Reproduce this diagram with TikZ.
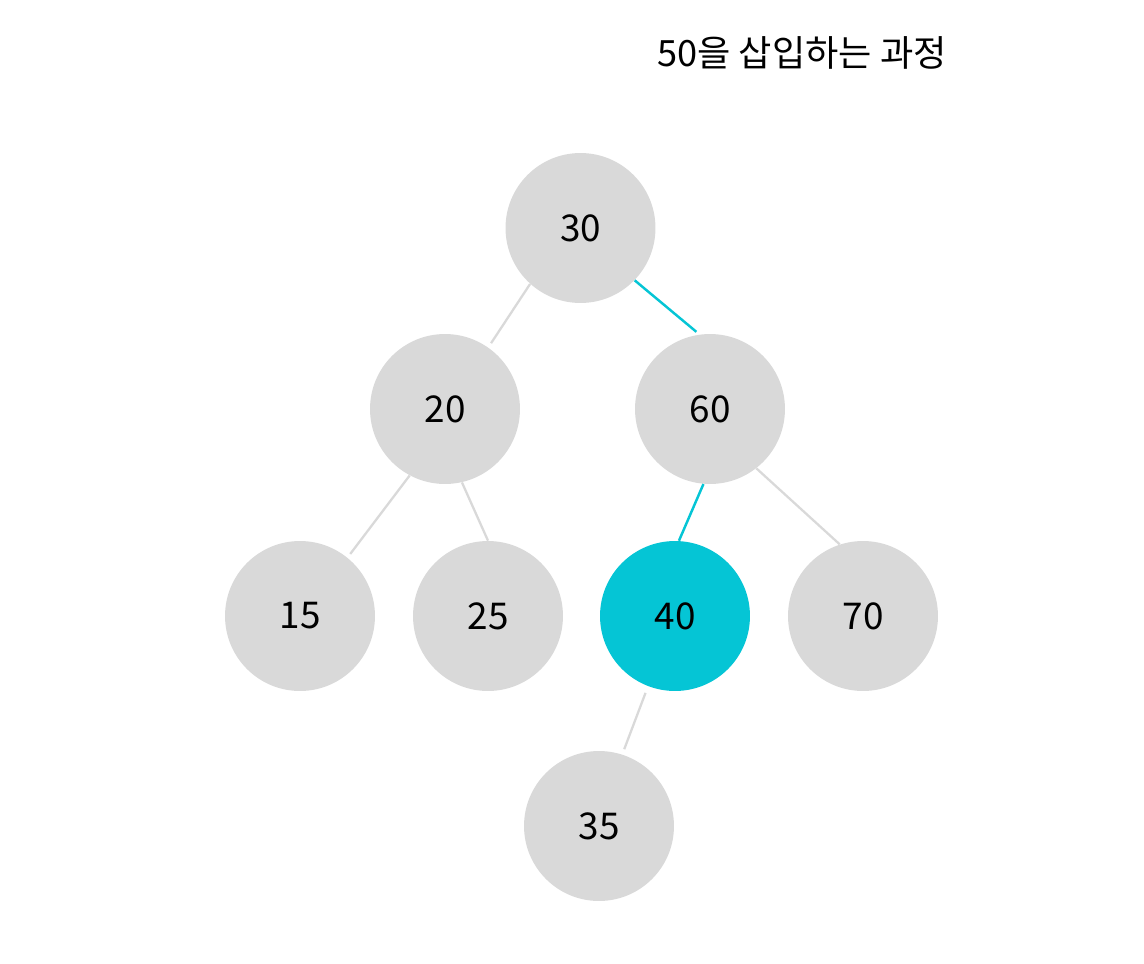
\documentclass[tikz,border=0pt]{standalone}
\usepackage{fontspec}
\setmainfont{Noto Sans CJK KR}
\definecolor{nodegray}{HTML}{D9D9D9}
\definecolor{hlcyan}{HTML}{05C5D5}

\begin{document}
\begin{tikzpicture}[
  x=0.02cm, y=-0.02cm,
  key/.style={circle, fill=nodegray, minimum size=3cm, inner sep=0pt,
    font=\fontsize{21}{25}\selectfont},
  link/.style={draw=nodegray, line width=1.3pt},
  hllink/.style={draw=hlcyan, line width=1.4pt}]
\useasboundingbox (0,0) rectangle (1144,964);
\node[anchor=base, font=\fontsize{20.6}{24}\selectfont] (title) at (802,66) {50을 삽입하는 과정};

\node[key] (n30) at (580.5,228) {30};
\node[key] (n20) at (445,409) {20};
\node[key] (n60) at (710,409) {60};
\node[key] (n15) at (300,616) {15};
\node[key] (n25) at (488,616) {25};
\node[key, fill=hlcyan] (n40) at (675,616) {40};
\node[key] (n70) at (863,616) {70};
\node[key] (n35) at (599,826) {35};

\draw[link] (n30.-132) -- ([shift={(55:0.1cm)}]n20.55);
\draw[hllink] (n30.-44) -- ([shift={(100:0.06cm)}]n60.100);
\draw[link] (n20.-118) -- ([shift={(51:0.09cm)}]n15.51);
\draw[link] (n20.-77) -- (n25.90);
\draw[hllink] (n60.-95) -- (n40.87);
\draw[link] (n60.-52) -- (n70.108);
\draw[link, shorten <=0.14cm, shorten >=0.11cm] (n40.-111) -- (n35.72);
\end{tikzpicture}
\end{document}
